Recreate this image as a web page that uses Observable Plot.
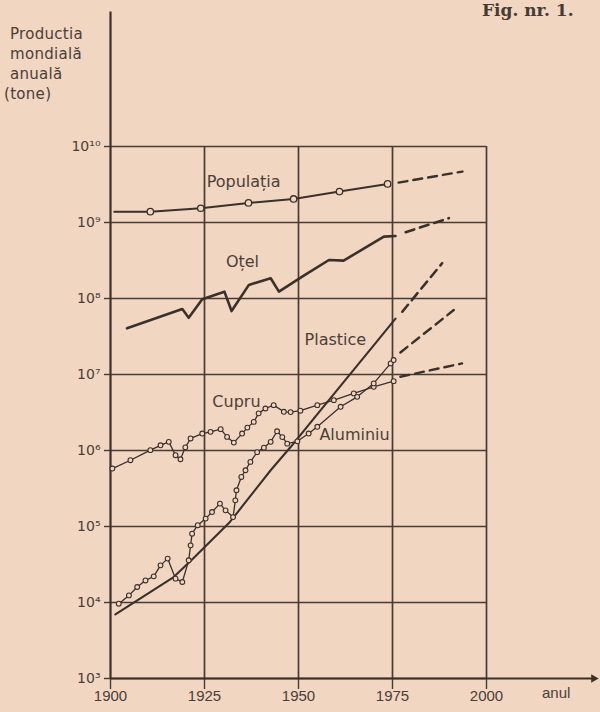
<!DOCTYPE html>
<html><head><meta charset="utf-8">
<script src="https://cdn.jsdelivr.net/npm/d3@7"></script>
<script src="https://cdn.jsdelivr.net/npm/@observablehq/plot@0.6"></script>
<style>
html,body{margin:0;padding:0;background:#f1d6c2;}
#wrap{position:relative;width:600px;height:712px;overflow:hidden;background:#f1d6c2;}
#wrap svg{position:absolute;left:0;top:0;}
.ylab{position:absolute;left:10px;top:24px;font-family:"DejaVu Sans",sans-serif;font-size:15px;line-height:20px;color:#4b4038;letter-spacing:0.3px;}
.ylab div:last-child{margin-left:-6px;}
.fig{position:absolute;left:482px;top:0px;font-family:"DejaVu Serif",serif;font-weight:bold;font-size:17px;color:#463b33;}
.anul{position:absolute;left:542px;top:684px;font-family:"Liberation Sans",sans-serif;font-size:15px;color:#4b4038;}
</style></head><body>
<div id="wrap">
  <div class="ylab"><div>Productia</div><div>mondială</div><div>anuală</div><div>(tone)</div></div>
  <div class="fig">Fig. nr. 1.</div>
  <div class="anul">anul</div>
</div>
<script>
// ---- tick values ----
const xTicks = [1900, 1925, 1950, 1975, 2000];
const yTicks = [1e3, 1e4, 1e5, 1e6, 1e7, 1e8, 1e9, 1e10];

// ---- Populația ----
const popYears  = [1901, 1910.6, 1924, 1936.7, 1948.7, 1960.9, 1973.7];
const popValues = [1.39e9, 1.39e9, 1.54e9, 1.81e9, 2.04e9, 2.55e9, 3.22e9];
const popProjYears  = [1976.6, 1993.6];
const popProjValues = [3.35e9, 4.68e9];

// ---- Oțel ----
const steelYears  = [1904.4, 1919.1, 1920.8, 1924.4, 1930.3, 1932.2, 1936.8, 1942.6, 1944.8, 1951.3, 1958.1, 1962, 1972.7, 1975.8];
const steelValues = [4.05e7, 7.28e7, 5.58e7, 9.75e7, 1.23e8, 6.84e7, 1.51e8, 1.85e8, 1.23e8, 1.98e8, 3.21e8, 3.15e8, 6.52e8, 6.65e8];
const steelProjYears  = [1978.5, 1990];
const steelProjValues = [7.45e8, 1.14e9];

// ---- Plastice ----
const plasticYears  = [1901.3, 1916.8, 1921.3, 1931.5, 1934.1, 1942.6, 1947.9, 1954, 1962, 1970, 1975.8];
const plasticValues = [6.97e3, 2.16e4, 3.51e4, 1.11e5, 1.61e5, 5.5e5, 1.11e6, 2.61e6, 7.94e6, 2.42e7, 5.43e7];
const plasticProjYears  = [1977.6, 1988.2];
const plasticProjValues = [6.7e7, 2.91e8];

// ---- Cupru ----
const copperYears  = [1900.5, 1905.3, 1910.6, 1913.3, 1915.5, 1917.3, 1918.6, 1919.9, 1921.3, 1924.4, 1926.6, 1929.3, 1931, 1932.8, 1935, 1936.4, 1938.1, 1939.4, 1941.2, 1943.4, 1946.1, 1947.9, 1950.5, 1955, 1959.4, 1964.7, 1970, 1975.3];
const copperValues = [5.79e5, 7.45e5, 1.01e6, 1.17e6, 1.3e6, 8.67e5, 7.67e5, 1.1e6, 1.44e6, 1.67e6, 1.76e6, 1.91e6, 1.51e6, 1.27e6, 1.67e6, 2.0e6, 2.38e6, 3.08e6, 3.57e6, 3.95e6, 3.23e6, 3.2e6, 3.34e6, 3.95e6, 4.6e6, 5.64e6, 6.89e6, 8.18e6];
const copperProjYears  = [1977.1, 1993.5];
const copperProjValues = [9.33e6, 1.4e7];

// ---- Aluminiu ----
const aluYears  = [1902.2, 1904.9, 1907.1, 1909.3, 1911.5, 1913.3, 1915.2, 1917.3, 1919.1, 1920.8, 1921.3, 1921.7, 1923.2, 1925.3, 1927, 1929.1, 1930.6, 1932.6, 1933.2, 1933.5, 1934.8, 1935.9, 1937.2, 1939, 1940.8, 1942.6, 1944.3, 1945.7, 1947, 1949.7, 1952.7, 1955, 1961.2, 1965.6, 1970, 1974.5, 1975.3];
const aluValues = [9.64e3, 1.24e4, 1.6e4, 1.95e4, 2.21e4, 3.08e4, 3.78e4, 2.06e4, 1.86e4, 3.59e4, 5.65e4, 8.05e4, 1.04e5, 1.27e5, 1.55e5, 2.0e5, 1.63e5, 1.33e5, 2.21e5, 3.0e5, 4.49e5, 5.5e5, 7.08e5, 9.51e5, 1.09e6, 1.3e6, 1.79e6, 1.5e6, 1.23e6, 1.32e6, 1.67e6, 2.05e6, 3.76e6, 5.08e6, 7.64e6, 1.4e7, 1.55e7];
const aluProjYears  = [1977.1, 1991.3];
const aluProjValues = [1.95e7, 7.05e7];

// ---- series labels ----
const labelNames  = ["Populația", "Oțel", "Plastice", "Cupru", "Aluminiu"];
const labelYears  = [1935.4, 1935.1, 1959.8, 1933.5, 1964.9];
const labelValues = [3.43e9, 3.03e8, 2.84e7, 4.33e6, 1.59e6];

// ---- axis extents ----
const xAxisEnd = 2028.5;
const yAxisTop = 10 ** 11.77;

const rows = (xs, ys) => xs.map((x, i) => ({x, y: ys[i]}));
const pop = rows(popYears, popValues);
const popDots = pop.slice(1);
const popProj = rows(popProjYears, popProjValues);
const steel = rows(steelYears, steelValues);
const steelProj = rows(steelProjYears, steelProjValues);
const plastic = rows(plasticYears, plasticValues);
const plasticProj = rows(plasticProjYears, plasticProjValues);
const copper = rows(copperYears, copperValues);
const copperProj = rows(copperProjYears, copperProjValues);
const alu = rows(aluYears, aluValues);
const aluProj = rows(aluProjYears, aluProjValues);
const labels = labelNames.map((t, i) => ({t, x: labelYears[i], y: labelValues[i]}));

const ink = "#3a312b";
const grid = "#463c35";
const bg = "#f1d6c2";
const sup = {"0":"⁰","1":"¹","2":"²","3":"³","4":"⁴","5":"⁵","6":"⁶","7":"⁷","8":"⁸","9":"⁹"};
const fmtY = d => "10" + String(Math.round(Math.log10(d))).split("").map(c => sup[c]).join("");
const dash = "9,6";

const chart = Plot.plot({
  width: 600,
  height: 712,
  marginLeft: 110,
  marginRight: 114,
  marginTop: 146,
  marginBottom: 34,
  x: {domain: [1900, 2000]},
  y: {type: "log", domain: [1e3, 1e10]},
  style: {background: "transparent", fontFamily: "'Liberation Sans', sans-serif", fontSize: "14px", color: "#4b4038", overflow: "visible"},
  marks: [
    Plot.ruleY(yTicks, {x1: 1900, x2: 2000, stroke: grid, strokeWidth: 1.7}),
    Plot.ruleX(xTicks.slice(1), {y1: 1e3, y2: 1e10, stroke: grid, strokeWidth: 1.7}),
    Plot.axisY(yTicks, {anchor: "left", label: null, tickSize: 6, tickPadding: 4, tickFormat: fmtY, stroke: grid, fill: "#4b4038", fontSize: 14, fontFamily: "DejaVu Sans", strokeWidth: 1.4}),
    Plot.axisX(xTicks, {anchor: "bottom", label: null, tickSize: 11, tickPadding: 1, tickFormat: d => String(d), stroke: grid, fill: "#4b4038", fontSize: 15, strokeWidth: 1.4}),
    Plot.ruleX([1900], {y1: 1e3, y2: yAxisTop, stroke: ink, strokeWidth: 2.2}),
    Plot.ruleY([1e3], {x1: 1900, x2: xAxisEnd, stroke: ink, strokeWidth: 2.2}),
    Plot.dot([{x: xAxisEnd, y: 1e3}], {x: "x", y: "y", symbol: "triangle", rotate: 90, r: 3.2, fill: ink, stroke: "none"}),

    // Populația
    Plot.line(pop, {x: "x", y: "y", stroke: ink, strokeWidth: 2}),
    Plot.dot(popDots, {x: "x", y: "y", r: 3.2, fill: bg, stroke: ink, strokeWidth: 1.3}),
    Plot.line(popProj, {x: "x", y: "y", stroke: ink, strokeWidth: 2.4, strokeDasharray: dash}),

    // Oțel
    Plot.line(steel, {x: "x", y: "y", stroke: ink, strokeWidth: 2.6}),
    Plot.line(steelProj, {x: "x", y: "y", stroke: ink, strokeWidth: 2.6, strokeDasharray: dash}),

    // Plastice
    Plot.line(plastic, {x: "x", y: "y", stroke: ink, strokeWidth: 2.1}),
    Plot.line(plasticProj, {x: "x", y: "y", stroke: ink, strokeWidth: 2.6, strokeDasharray: dash}),

    // Cupru
    Plot.line(copper, {x: "x", y: "y", stroke: ink, strokeWidth: 1.3}),
    Plot.dot(copper, {x: "x", y: "y", r: 2.4, fill: bg, stroke: ink, strokeWidth: 1.1}),
    Plot.line(copperProj, {x: "x", y: "y", stroke: ink, strokeWidth: 2.4, strokeDasharray: dash}),

    // Aluminiu
    Plot.line(alu, {x: "x", y: "y", stroke: ink, strokeWidth: 1.3}),
    Plot.dot(alu, {x: "x", y: "y", r: 2.4, fill: bg, stroke: ink, strokeWidth: 1.1}),
    Plot.line(aluProj, {x: "x", y: "y", stroke: ink, strokeWidth: 2.4, strokeDasharray: dash}),

    Plot.text(labels, {x: "x", y: "y", text: "t", fontSize: 16, fontFamily: "DejaVu Sans", fill: "#4b4038"})
  ]
});
document.getElementById("wrap").appendChild(chart);
</script>
</body></html>
